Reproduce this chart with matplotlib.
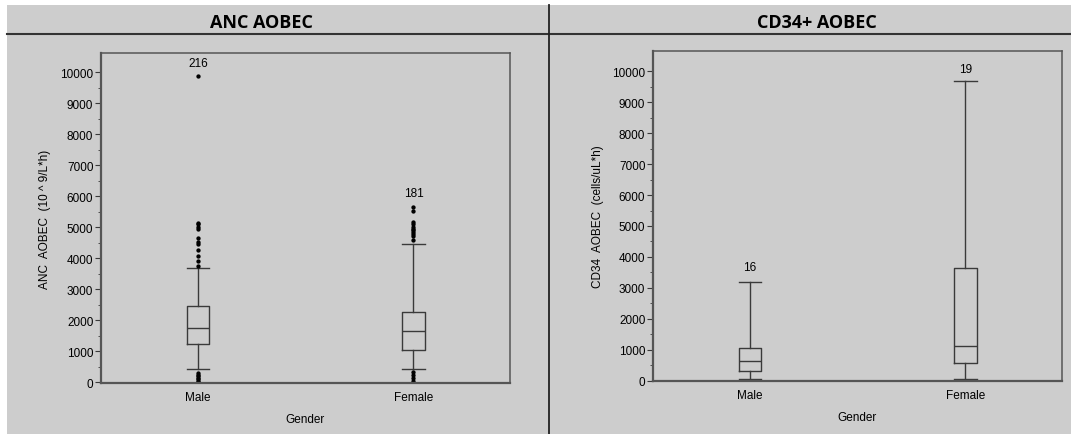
import matplotlib
matplotlib.use('Agg')
import matplotlib.pyplot as plt
from matplotlib.lines import Line2D
from matplotlib.patches import Rectangle
import numpy as np

# box statistics
genders = ['Male', 'Female']

anc_q1 = [1235, 1050]
anc_med = [1750, 1665]
anc_q3 = [2450, 2280]
anc_whislo = [430, 430]
anc_whishi = [3690, 4470]
anc_fliers_male = [9890, 5130, 5105, 5020, 4945, 4645, 4535, 4460, 4280, 4085, 3920, 3750,
                   300, 250, 200, 150, 100, 50, 0]
anc_fliers_female = [5645, 5535, 5160, 5100, 5000, 4945, 4900, 4840, 4785, 4730, 4590,
                     350, 250, 150, 50]
anc_labels = ['216', '181']
anc_label_y = [10290, 6100]

cd34_q1 = [303, 570]
cd34_med = [627, 1130]
cd34_q3 = [1054, 3630]
cd34_whislo = [50, 50]
cd34_whishi = [3180, 9690]
cd34_labels = ['16', '19']
cd34_label_y = [3660, 10080]

BG = '#cdcdcd'
LINE = '#3a3a3a'
TICKFONT = 'Liberation Sans'

fig = plt.figure(figsize=(10.71, 4.35), dpi=100)
fig.patch.set_facecolor('white')
fig.add_artist(Rectangle((7 / 1071, 0), 1 - 7 / 1071, 1 - 6 / 435, transform=fig.transFigure,
                         facecolor=BG, edgecolor='none', zorder=-10))
# header rule and panel divider
fig.add_artist(Line2D([7 / 1071, 1], [1 - 35 / 435] * 2, transform=fig.transFigure, color='#333333', lw=1.5))
fig.add_artist(Line2D([549 / 1071] * 2, [0, 1 - 6 / 435], transform=fig.transFigure, color='#222222', lw=1.3))

fig.text(261 / 1071, 1 - 23 / 435, 'ANC AOBEC', ha='center', va='center', fontsize=13,
         fontweight='bold', family='Open Sans')
fig.text(817 / 1071, 1 - 23 / 435, 'CD34+ AOBEC', ha='center', va='center', fontsize=13,
         fontweight='bold', family='Open Sans')


def panel(rect, ylim, q1, med, q3, lo, hi, fliers, labels, label_y, ylabel, ylabel_x):
    ax = fig.add_axes(rect)
    ax.set_facecolor(BG)
    stats = []
    for i in range(len(genders)):
        stats.append(dict(med=med[i], q1=q1[i], q3=q3[i], whislo=lo[i], whishi=hi[i],
                          fliers=fliers[i], label=genders[i]))
    lp = dict(color=LINE, lw=1.0)
    ax.bxp(stats, positions=[1, 2], widths=0.106, capwidths=0.106,
           boxprops=lp, whiskerprops=lp, capprops=lp, medianprops=lp,
           flierprops=dict(marker='o', markersize=2.1, markerfacecolor='black',
                           markeredgecolor='black', linestyle='none'))
    for i, t in enumerate(labels):
        ax.text(i + 1, label_y[i], t, ha='center', va='center', fontsize=8.5, family=TICKFONT)
    ax.set_xlim(0.55, 2.448)
    ax.set_ylim(*ylim)
    ax.set_yticks(np.arange(0, 10001, 1000))
    ax.set_yticks(np.arange(500, 10001, 1000), minor=True)
    ax.tick_params(axis='y', which='major', length=4, color=LINE, labelsize=8.5, pad=1.5)
    ax.tick_params(axis='y', which='minor', length=2.5, color=LINE)
    ax.tick_params(axis='x', length=0, labelsize=8.5, pad=6)
    for lab in ax.get_xticklabels() + ax.get_yticklabels():
        lab.set_family(TICKFONT)
    for s in ax.spines.values():
        s.set_color('#555555')
        s.set_linewidth(1.1)
    ax.spines['bottom'].set_linewidth(1.6)
    ax.spines['left'].set_linewidth(1.6)
    ax.set_xlabel('Gender', fontsize=8.5, family=TICKFONT, labelpad=7)
    fig.text(ylabel_x / 1071, rect[1] + rect[3] * 0.5, ylabel, rotation=90, ha='center',
             va='center', fontsize=8.5, family=TICKFONT)
    return ax


panel([101 / 1071, 51 / 435, 409 / 1071, 330 / 435], (-20, 10620),
      anc_q1, anc_med, anc_q3, anc_whislo, anc_whishi,
      [anc_fliers_male, anc_fliers_female], anc_labels, anc_label_y,
      'ANC  AOBEC  (10 ^ 9/L*h)', 45)
panel([653 / 1071, 53 / 435, 409 / 1071, 330 / 435], (-10, 10656),
      cd34_q1, cd34_med, cd34_q3, cd34_whislo, cd34_whishi,
      [[], []], cd34_labels, cd34_label_y,
      'CD34  AOBEC  (cells/uL*h)', 598)

plt.savefig('out.png', dpi=100, facecolor=fig.get_facecolor())
